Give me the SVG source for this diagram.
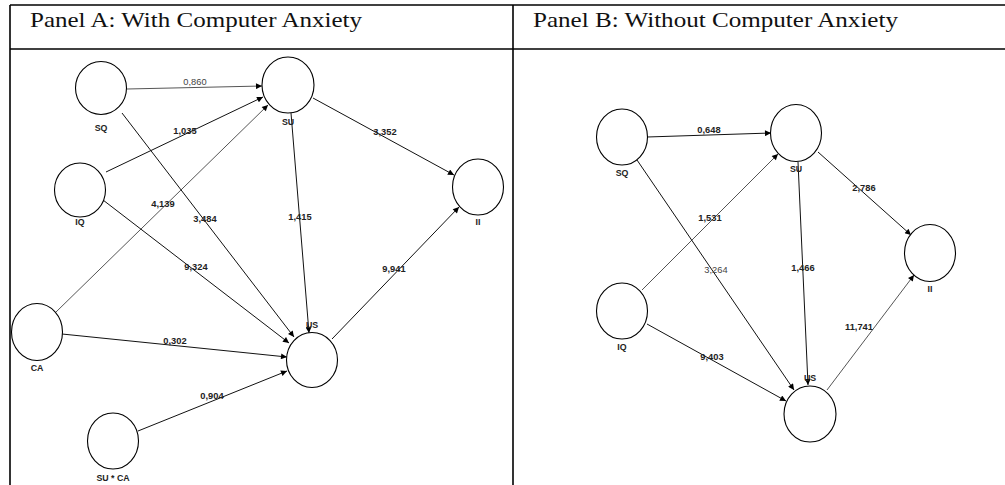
<svg xmlns="http://www.w3.org/2000/svg" width="1005" height="485" viewBox="0 0 1005 485">
  <style>
    .grid { stroke: #000; stroke-width: 1.6; fill: none; }
    .title { font-family: "Liberation Serif", "Times New Roman", serif; font-size: 21.5px; fill: #111; }
    .node { fill: #fff; stroke: #000; stroke-width: 1.1; }
    .nlabel { font-family: "Liberation Sans", Arial, sans-serif; font-size: 8.8px; font-weight: bold; fill: #222; text-anchor: middle; }
    .edge { stroke: #111; stroke-width: 1; fill: none; marker-end: url(#head); }
    .edge.light { stroke: #555; }
    .elabel { font-family: "Liberation Sans", Arial, sans-serif; font-size: 9.3px; font-weight: bold; fill: #222; text-anchor: middle; }
    .elabel.thin { font-weight: normal; fill: #444; }
  </style>
  <defs>
    <marker id="head" viewBox="0 0 10 10" refX="10" refY="5" markerWidth="8" markerHeight="6" markerUnits="userSpaceOnUse" orient="auto">
      <path d="M0,0 L10,5 L0,10 z" fill="#000"/>
    </marker>
  </defs>

  <rect width="1005" height="485" fill="#fff"/>

  <!-- table frame -->
  <g id="table">
    <line class="grid" x1="10" y1="5" x2="1005" y2="5"/>
    <line class="grid" x1="10" y1="49" x2="1005" y2="49"/>
    <line class="grid" x1="10" y1="5" x2="10" y2="485"/>
    <line class="grid" x1="513" y1="5" x2="513" y2="485"/>
    <text class="title" x="30" y="27" textLength="332" lengthAdjust="spacingAndGlyphs">Panel A: With Computer Anxiety</text>
    <text class="title" x="533" y="27" textLength="365" lengthAdjust="spacingAndGlyphs">Panel B: Without Computer Anxiety</text>
  </g>

  <!-- Panel A connectors -->
  <g id="edges-a">
    <line class="edge light" x1="127" y1="89" x2="262" y2="86"/>
    <line class="edge" x1="106" y1="172" x2="263" y2="97"/>
    <line class="edge light" x1="56" y1="312" x2="268" y2="105"/>
    <line class="edge" x1="122" y1="113" x2="294" y2="337"/>
    <line class="edge" x1="103" y1="200" x2="289" y2="343"/>
    <line class="edge" x1="291" y1="113" x2="309" y2="333"/>
    <line class="edge" x1="62" y1="334" x2="287" y2="357"/>
    <line class="edge" x1="138" y1="431" x2="287" y2="371"/>
    <line class="edge" x1="332" y1="339" x2="459" y2="207"/>
    <line class="edge" x1="313" y1="98" x2="454" y2="175"/>
    <text class="elabel thin" x="195" y="85">0,860</text>
    <text class="elabel" x="185" y="134">1,035</text>
    <text class="elabel" x="163" y="207">4,139</text>
    <text class="elabel" x="205" y="222">3,484</text>
    <text class="elabel" x="196" y="270">9,324</text>
    <text class="elabel" x="300" y="220">1,415</text>
    <text class="elabel" x="175" y="344">0,302</text>
    <text class="elabel" x="212" y="399">0,904</text>
    <text class="elabel" x="394" y="272">9,941</text>
    <text class="elabel" x="385" y="135">3,352</text>
  </g>

  <!-- Panel A constructs -->
  <g id="a-sq"><ellipse class="node" cx="101" cy="88" rx="25.5" ry="26.5"/><text class="nlabel" x="101" y="131">SQ</text></g>
  <g id="a-iq"><ellipse class="node" cx="80" cy="190" rx="25.5" ry="27"/><text class="nlabel" x="80" y="225">IQ</text></g>
  <g id="a-su"><ellipse class="node" cx="288" cy="85" rx="26" ry="28"/><text class="nlabel" x="288" y="125">SU</text></g>
  <g id="a-ii"><ellipse class="node" cx="478" cy="187" rx="25.5" ry="28"/><text class="nlabel" x="478" y="225">II</text></g>
  <g id="a-ca"><ellipse class="node" cx="37" cy="332" rx="25.5" ry="28.5"/><text class="nlabel" x="37" y="371">CA</text></g>
  <g id="a-us"><ellipse class="node" cx="312" cy="360" rx="25.5" ry="27.5"/><text class="nlabel" x="312" y="328">US</text></g>
  <g id="a-suca"><ellipse class="node" cx="113" cy="441" rx="25.5" ry="28"/><text class="nlabel" x="113" y="481">SU * CA</text></g>

  <!-- Panel B connectors -->
  <g id="edges-b">
    <line class="edge" x1="647" y1="137" x2="771" y2="133"/>
    <line class="edge light" x1="642" y1="290" x2="778" y2="154"/>
    <line class="edge" x1="637" y1="160" x2="794" y2="390"/>
    <line class="edge" x1="647" y1="324" x2="786" y2="401"/>
    <line class="edge" x1="798" y1="162" x2="808" y2="385"/>
    <line class="edge" x1="818" y1="152" x2="911" y2="235"/>
    <line class="edge light" x1="827" y1="390" x2="914" y2="275"/>
    <text class="elabel" x="709" y="133">0,648</text>
    <text class="elabel" x="710" y="221">1,531</text>
    <text class="elabel thin" x="716" y="273">3,264</text>
    <text class="elabel" x="712" y="360">9,403</text>
    <text class="elabel" x="803" y="271">1,466</text>
    <text class="elabel" x="864" y="191">2,786</text>
    <text class="elabel" x="859" y="330">11,741</text>
  </g>

  <!-- Panel B constructs -->
  <g id="b-sq"><ellipse class="node" cx="622" cy="137" rx="25.5" ry="28"/><text class="nlabel" x="622" y="176">SQ</text></g>
  <g id="b-su"><ellipse class="node" cx="796" cy="133" rx="25.5" ry="28.5"/><text class="nlabel" x="796" y="172">SU</text></g>
  <g id="b-ii"><ellipse class="node" cx="930" cy="253" rx="25.5" ry="28.5"/><text class="nlabel" x="930" y="292">II</text></g>
  <g id="b-iq"><ellipse class="node" cx="622" cy="311" rx="25.5" ry="28"/><text class="nlabel" x="622" y="350">IQ</text></g>
  <g id="b-us"><ellipse class="node" cx="810" cy="414" rx="26" ry="28"/><text class="nlabel" x="810" y="381">US</text></g>
</svg>
